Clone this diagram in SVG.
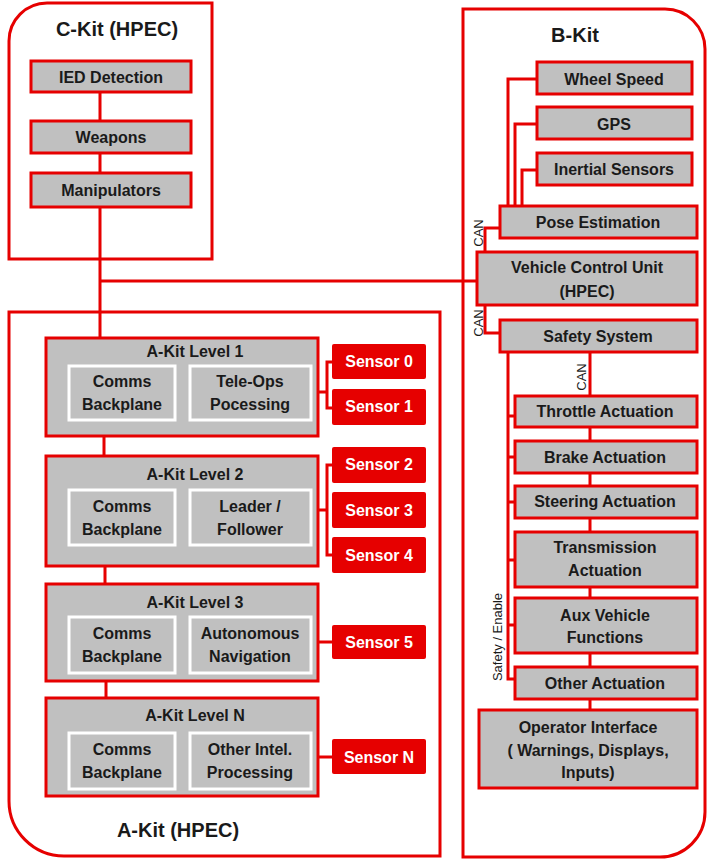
<svg xmlns="http://www.w3.org/2000/svg" width="707" height="859" viewBox="0 0 707 859">
<style>
.kit{fill:#fff;stroke:#e60000;stroke-width:3}
.box{fill:#c0c0c0;stroke:#e60000;stroke-width:3}
.inner{fill:#c0c0c0;stroke:#fff;stroke-width:3}
.sensor{fill:#e60000;stroke:none}
.ln{fill:none;stroke:#e60000;stroke-width:3}
text{font-family:"Liberation Sans",Arial,sans-serif;font-size:16px;font-weight:bold;fill:#1a1a1a;text-anchor:middle}
.title{font-size:20px}
.wt{fill:#fff}
.lbl{font-size:13px;font-weight:normal}
</style>
<rect width="707" height="859" fill="#fff"/>
<g id="c-kit"><path class="kit" d="M9,259 V41 A38,38 0 0 1 47,3 H212 V259 Z"/><text class="title" x="117" y="36">C-Kit (HPEC)</text></g>
<g id="b-kit"><path class="kit" d="M463,9 H665 A40,40 0 0 1 705,49 V812 A45,45 0 0 1 660,857 H463 Z"/><text class="title" x="575" y="42">B-Kit</text></g>
<g id="a-kit"><path class="kit" d="M9,312 H440 V856 H64 A55,55 0 0 1 9,801 Z"/><text class="title" x="178" y="837">A-Kit (HPEC)</text></g>

<g id="connectors">
<path class="ln" d="M100,92 V121 M100,153 V173 M100,207 V338 M100,281 H477"/>
<path class="ln" d="M104,436 V456 M105,566 V584 M106,681 V698"/>
<path class="ln" d="M176,392 H190 M176,518 H190 M176,646 H190 M176,760 H190"/>
<path class="ln" d="M311,392 H327 M332,362 H327 V408 H332 M311,510 H327 M332,465 H327 V555 H332 M311,642 H332 M311,757 H332"/>
<path class="ln" d="M537,79 H508 V206 M537,124 H515 V206 M537,170 H522 V206"/>
<path class="ln" d="M500,228 H485 V252 M485,305 V333 H500"/>
<path class="ln" d="M590,352 V396 M590,427 V441 M590,473 V486 M590,518 V532 M590,587 V598 M590,653 V667 M590,699 V710"/>
<path class="ln" d="M508,352 V679 H515 M508,416 H515 M508,457 H515 M508,502 H515 M508,560 H515 M508,625 H515"/>
<text class="lbl" transform="translate(483,233) rotate(-90)">CAN</text>
<text class="lbl" transform="translate(483,323) rotate(-90)">CAN</text>
<text class="lbl" transform="translate(586,377) rotate(-90)">CAN</text>
<text class="lbl" transform="translate(502,637) rotate(-90)">Safety / Enable</text>
</g>

<g id="ied"><rect class="box" x="31" y="61" width="160" height="31"/><text x="111" y="83">IED Detection</text></g>
<g id="weapons"><rect class="box" x="31" y="121" width="160" height="32"/><text x="111" y="143">Weapons</text></g>
<g id="manipulators"><rect class="box" x="31" y="173" width="160" height="34"/><text x="111" y="196">Manipulators</text></g>

<g id="level1"><rect class="box" x="46" y="338" width="272" height="98"/><text x="195" y="357">A-Kit Level 1</text>
<rect class="inner" x="69" y="366" width="106" height="54"/><text x="122" y="387">Comms</text><text x="122" y="410">Backplane</text>
<rect class="inner" x="190" y="366" width="121" height="54"/><text x="250" y="387">Tele-Ops</text><text x="250" y="410">Pocessing</text></g>
<g id="level2"><rect class="box" x="46" y="456" width="272" height="110"/><text x="195" y="480">A-Kit Level 2</text>
<rect class="inner" x="69" y="490" width="106" height="55"/><text x="122" y="512">Comms</text><text x="122" y="535">Backplane</text>
<rect class="inner" x="190" y="490" width="121" height="55"/><text x="250" y="512">Leader /</text><text x="250" y="535">Follower</text></g>
<g id="level3"><rect class="box" x="46" y="584" width="272" height="97"/><text x="195" y="608">A-Kit Level 3</text>
<rect class="inner" x="69" y="617" width="106" height="56"/><text x="122" y="639">Comms</text><text x="122" y="662">Backplane</text>
<rect class="inner" x="190" y="617" width="121" height="56"/><text x="250" y="639">Autonomous</text><text x="250" y="662">Navigation</text></g>
<g id="levelN"><rect class="box" x="46" y="698" width="272" height="98"/><text x="195" y="721">A-Kit Level N</text>
<rect class="inner" x="69" y="733" width="106" height="56"/><text x="122" y="755">Comms</text><text x="122" y="778">Backplane</text>
<rect class="inner" x="190" y="733" width="121" height="56"/><text x="250" y="755">Other Intel.</text><text x="250" y="778">Processing</text></g>

<g id="sensor0"><rect class="sensor" x="332" y="344" width="94" height="35" rx="2"/><text class="wt" x="379" y="367">Sensor 0</text></g>
<g id="sensor1"><rect class="sensor" x="332" y="389" width="94" height="36" rx="2"/><text class="wt" x="379" y="412">Sensor 1</text></g>
<g id="sensor2"><rect class="sensor" x="332" y="447" width="94" height="36" rx="2"/><text class="wt" x="379" y="470">Sensor 2</text></g>
<g id="sensor3"><rect class="sensor" x="332" y="492" width="94" height="36" rx="2"/><text class="wt" x="379" y="516">Sensor 3</text></g>
<g id="sensor4"><rect class="sensor" x="332" y="537" width="94" height="36" rx="2"/><text class="wt" x="379" y="561">Sensor 4</text></g>
<g id="sensor5"><rect class="sensor" x="332" y="625" width="94" height="34" rx="2"/><text class="wt" x="379" y="648">Sensor 5</text></g>
<g id="sensorN"><rect class="sensor" x="332" y="739" width="94" height="35" rx="2"/><text class="wt" x="379" y="763">Sensor N</text></g>

<g id="wheel"><rect class="box" x="537" y="62" width="155" height="32"/><text x="614" y="85">Wheel Speed</text></g>
<g id="gps"><rect class="box" x="537" y="107" width="155" height="32"/><text x="614" y="130">GPS</text></g>
<g id="inertial"><rect class="box" x="537" y="153" width="155" height="32"/><text x="614" y="175">Inertial Sensors</text></g>
<g id="pose"><rect class="box" x="500" y="206" width="197" height="32"/><text x="598" y="228">Pose Estimation</text></g>
<g id="vcu"><rect class="box" x="477" y="252" width="220" height="53"/><text x="587" y="273">Vehicle Control Unit</text><text x="587" y="297">(HPEC)</text></g>
<g id="safety"><rect class="box" x="500" y="320" width="197" height="32"/><text x="598" y="342">Safety System</text></g>
<g id="throttle"><rect class="box" x="515" y="396" width="182" height="31"/><text x="605" y="417">Throttle Actuation</text></g>
<g id="brake"><rect class="box" x="515" y="441" width="182" height="32"/><text x="605" y="463">Brake Actuation</text></g>
<g id="steering"><rect class="box" x="515" y="486" width="182" height="32"/><text x="605" y="507">Steering Actuation</text></g>
<g id="transmission"><rect class="box" x="515" y="532" width="182" height="55"/><text x="605" y="553">Transmission</text><text x="605" y="576">Actuation</text></g>
<g id="aux"><rect class="box" x="515" y="598" width="182" height="55"/><text x="605" y="621">Aux Vehicle</text><text x="605" y="643">Functions</text></g>
<g id="other"><rect class="box" x="515" y="667" width="182" height="32"/><text x="605" y="689">Other Actuation</text></g>
<g id="operator"><rect class="box" x="479" y="710" width="218" height="78"/><text x="588" y="733">Operator Interface</text><text x="588" y="756">( Warnings, Displays,</text><text x="588" y="778">Inputs)</text></g>
</svg>
